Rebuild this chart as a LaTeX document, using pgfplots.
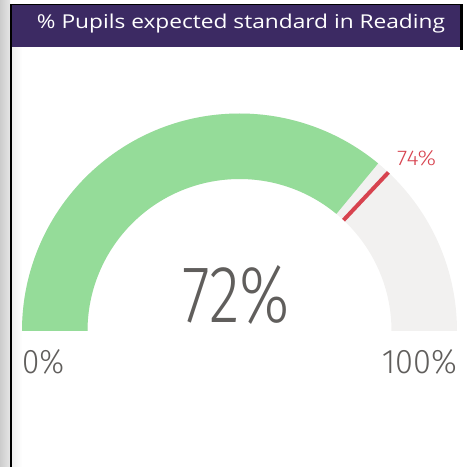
\documentclass[border=0pt]{standalone}
\usepackage{pgfplots}
\pgfplotsset{compat=1.18}
\usepackage{fontspec}
\setmainfont{Open Sans}
\newfontfamily\lightfont{Fira Sans Light}
\definecolor{titlepurple}{HTML}{3C2A63}
\definecolor{gaugegreen}{HTML}{95DC99}
\definecolor{gaugegray}{HTML}{F2F1F0}
\definecolor{targetred}{HTML}{D7434F}
\definecolor{txtgray}{HTML}{605E5C}
\begin{document}
\begin{tikzpicture}
\begin{axis}[
  hide axis, x=1pt, y=1pt,
  xmin=0, xmax=463, ymin=0, ymax=467,
  clip=false,
]
% frame
\shade[left color=black!20, right color=black!10] (axis cs:0,0) rectangle (axis cs:10,467);
\fill[black] (axis cs:10,0) rectangle (axis cs:12,463);
\shade[left color=black!6, right color=white] (axis cs:12,0) rectangle (axis cs:22,420);
\fill[black] (axis cs:10,462) rectangle (axis cs:463,463);
\fill[titlepurple] (axis cs:12,420) rectangle (axis cs:460,462);
\fill[black] (axis cs:460,417) rectangle (axis cs:463,463);
\node[anchor=base, text=white, inner sep=0pt] at (axis cs:241,438) {\resizebox{408pt}{14.5pt}{\% Pupils expected standard in Reading}};
% gauge background (0..100)
\fill[gaugegray] (axis cs:457,136) arc[start angle=0, end angle=180, radius=217.5pt]
   -- (axis cs:87.5,136) arc[start angle=180, end angle=0, radius=152pt] -- cycle;
% value 72 -> angle 180*(1-0.72)=50.4
\fill[gaugegreen] (axis cs:22,136) arc[start angle=180, end angle=50.4, radius=217.5pt]
   -- ++(230.4:65.5pt) arc[start angle=50.4, end angle=180, radius=152pt] -- cycle;
% target 74 -> angle 46.8
\addplot[targetred, line width=4pt] coordinates {(343.5,246.8) (388.4,294.6)};
% labels
\node[anchor=base, text=txtgray, inner sep=0pt] at (axis cs:236.5,144) {\resizebox{107pt}{57pt}{\lightfont 72\%}};
\node[anchor=base west, text=txtgray, inner sep=0pt] at (axis cs:22,93) {\resizebox{42pt}{24pt}{\lightfont 0\%}};
\node[anchor=base east, text=txtgray, inner sep=0pt] at (axis cs:457,93) {\resizebox{75pt}{24pt}{\lightfont 100\%}};
\node[anchor=base west, text=targetred, inner sep=0pt] at (axis cs:397,301) {\resizebox{39pt}{15pt}{\lightfont 74\%}};
\end{axis}
\end{tikzpicture}
\end{document}
